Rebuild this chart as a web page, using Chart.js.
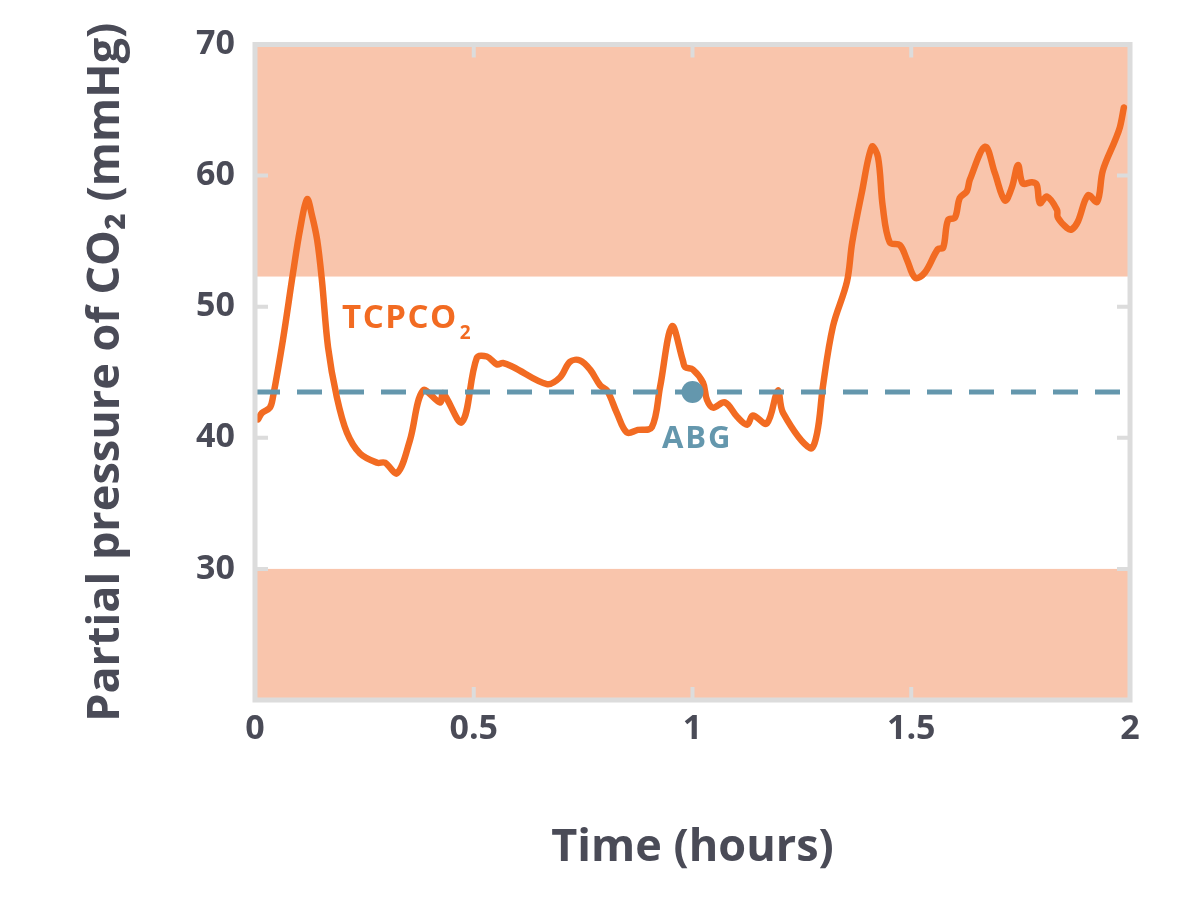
<!DOCTYPE html>
<html>
<head>
<meta charset="utf-8">
<title>Partial pressure of CO2</title>
<script src="https://cdn.jsdelivr.net/npm/chart.js@4.4.1/dist/chart.umd.min.js"></script>
<style>
  html, body { margin: 0; padding: 0; background: #fff; }
  #wrap { width: 1200px; height: 902px; position: relative; }
</style>
</head>
<body>
<div id="wrap"><canvas id="chart"></canvas></div>
<script>
// Values
const timeHours = [
  0.007, 0.016, 0.034, 0.041, 0.064, 0.087, 0.103, 0.119, 0.130, 0.142,
  0.153, 0.167, 0.187, 0.210, 0.240, 0.279, 0.297, 0.325, 0.354, 0.384,
  0.423, 0.430, 0.473, 0.507, 0.530, 0.553, 0.567, 0.590, 0.667, 0.697,
  0.720, 0.743, 0.766, 0.789, 0.805, 0.827, 0.850, 0.875, 0.907, 0.926,
  0.953, 0.978, 0.983, 1.001, 1.024, 1.033, 1.047, 1.074, 1.102, 1.125,
  1.138, 1.170, 1.195, 1.207, 1.269, 1.285, 1.298, 1.321, 1.353, 1.365,
  1.387, 1.410, 1.424, 1.435, 1.451, 1.474, 1.490, 1.509, 1.531, 1.561,
  1.573, 1.584, 1.600, 1.611, 1.627, 1.634, 1.669, 1.691, 1.714, 1.730,
  1.744, 1.755, 1.776, 1.787, 1.794, 1.810, 1.833, 1.835, 1.856, 1.867,
  1.881, 1.904, 1.925, 1.938, 1.966, 1.977, 1.986
];
const tcpco2 = [
  41.4, 41.9, 42.3, 43.1, 47.5, 52.6, 55.9, 58.2, 57.0, 55.1,
  52.0, 46.9, 43.1, 40.4, 38.8, 38.1, 38.1, 37.3, 39.8, 43.6,
  42.7, 43.4, 41.2, 46.1, 46.2, 45.6, 45.7, 45.4, 44.1, 44.6,
  45.8, 45.9, 45.2, 44.0, 43.6, 41.9, 40.4, 40.6, 40.8, 43.9,
  48.5, 45.9, 45.4, 45.2, 44.2, 42.9, 42.3, 42.7, 41.6, 41.0,
  41.7, 41.1, 43.6, 41.9, 39.2, 40.4, 43.9, 48.5, 51.9, 54.9,
  58.7, 62.2, 61.4, 57.6, 54.9, 54.7, 53.6, 52.2, 52.6, 54.4,
  54.5, 56.6, 56.8, 58.3, 58.8, 59.7, 62.2, 60.2, 58.1, 59.1,
  60.8, 59.4, 59.5, 59.3, 57.9, 58.4, 57.4, 56.8, 56.0, 55.9,
  56.5, 58.5, 58.0, 60.4, 62.7, 63.7, 65.2
];
const abgTime = [1.0];
const abgValue = [43.5];
const abgLineTime = [0, 2];
const abgLineValue = [43.5, 43.5];
const xTicks = [0, 0.5, 1, 1.5, 2];
const yTicks = [30, 40, 50, 60, 70];
const highBand = [52.3, 70];
const lowBand = [20, 30];

const ORANGE = '#f26b22';
const BLUE = '#6497ad';
const BAND = '#f9c5ac';
const FRAME = '#dcdcdc';
const INK = '#4a4b57';
const FONT = '"Open Sans", "DejaVu Sans", sans-serif';

// bands behind the lines
const bandsPlugin = {
  id: 'bands',
  beforeDatasetsDraw(chart) {
    const { ctx, chartArea, scales: { y } } = chart;
    ctx.save();
    ctx.fillStyle = BAND;
    [highBand, lowBand].forEach(([lo, hi]) => {
      const top = y.getPixelForValue(hi);
      const bot = y.getPixelForValue(lo);
      ctx.fillRect(chartArea.left, top, chartArea.right - chartArea.left, bot - top);
    });
    ctx.restore();
  }
};

// grey frame with inward ticks, plus text labels
const framePlugin = {
  id: 'frame',
  afterDatasetsDraw(chart) {
    const { ctx, chartArea: a, scales: { x, y } } = chart;
    ctx.save();
    ctx.strokeStyle = FRAME;
    ctx.lineWidth = 5;
    ctx.strokeRect(a.left, a.top, a.right - a.left, a.bottom - a.top);
    ctx.lineWidth = 4;
    ctx.beginPath();
    yTicks.slice(0, -1).forEach(v => {
      const py = y.getPixelForValue(v);
      ctx.moveTo(a.left, py); ctx.lineTo(a.left + 13, py);
      ctx.moveTo(a.right, py); ctx.lineTo(a.right - 13, py);
    });
    xTicks.slice(1, -1).forEach(v => {
      const px = x.getPixelForValue(v);
      ctx.moveTo(px, a.top); ctx.lineTo(px, a.top + 13);
      ctx.moveTo(px, a.bottom); ctx.lineTo(px, a.bottom - 13);
    });
    ctx.stroke();

    // TCPCO2 label
    ctx.textBaseline = 'alphabetic';
    ctx.textAlign = 'left';
    ctx.fillStyle = ORANGE;
    ctx.letterSpacing = '1.5px';
    ctx.font = '700 33px ' + FONT;
    const tx = x.getPixelForValue(0.199);
    const ty = y.getPixelForValue(48.4);
    ctx.fillText('TCPCO', tx, ty);
    const w = ctx.measureText('TCPCO').width;
    ctx.font = '700 19px ' + FONT;
    ctx.fillText('2', tx + w + 2, ty + 11);

    // ABG label
    ctx.fillStyle = BLUE;
    ctx.letterSpacing = '2px';
    ctx.font = '700 31px ' + FONT;
    ctx.fillText('ABG', x.getPixelForValue(0.93), y.getPixelForValue(39.2));
    ctx.restore();
  }
};

const ctx = document.getElementById('chart').getContext('2d');
const chart = new Chart(ctx, {
  type: 'line',
  data: {
    datasets: [
      {
        label: 'TCPCO2',
        data: timeHours.map((t, i) => ({ x: t, y: tcpco2[i] })),
        borderColor: ORANGE,
        borderWidth: 6.5,
        borderCapStyle: 'round',
        borderJoinStyle: 'round',
        pointRadius: 0,
        tension: 0.35,
        order: 2
      },
      {
        label: 'ABG line',
        data: abgLineTime.map((t, i) => ({ x: t, y: abgLineValue[i] })),
        borderColor: BLUE,
        borderWidth: 5,
        borderDash: [25, 17],
        pointRadius: 0,
        order: 1
      },
      {
        label: 'ABG',
        data: abgTime.map((t, i) => ({ x: t, y: abgValue[i] })),
        showLine: false,
        pointRadius: 11,
        pointBackgroundColor: BLUE,
        pointBorderWidth: 0,
        order: 0
      }
    ]
  },
  options: {
    responsive: true,
    maintainAspectRatio: false,
    animation: false,
    layout: { padding: { left: 79, right: 70, top: 44.5, bottom: 27 } },
    plugins: { legend: { display: false }, tooltip: { enabled: false } },
    scales: {
      x: {
        type: 'linear',
        min: 0,
        max: 2,
        afterBuildTicks: s => { s.ticks = xTicks.map(v => ({ value: v })); },
        afterFit: s => { s.height = 175; },
        grid: { display: false, drawTicks: false },
        border: { display: false },
        ticks: {
          padding: 9,
          color: INK,
          font: { family: FONT, size: 34, weight: '700' },
          callback: v => String(v)
        },
        title: {
          display: true,
          text: 'Time (hours)',
          color: INK,
          padding: 0,
          font: { family: FONT, size: 45, weight: '700' }
        }
      },
      y: {
        min: 20,
        max: 70,
        afterBuildTicks: s => { s.ticks = yTicks.map(v => ({ value: v })); },
        afterFit: s => { s.width = 176; },
        grid: { display: false, drawTicks: false },
        border: { display: false },
        ticks: {
          padding: 20,
          color: INK,
          font: { family: FONT, size: 34, weight: '700' },
          callback: v => String(v)
        },
        title: {
          display: true,
          text: 'Partial pressure of CO\u2082 (mmHg)',
          color: INK,
          padding: 0,
          font: { family: FONT, size: 45, weight: '700' }
        }
      }
    }
  },
  plugins: [bandsPlugin, framePlugin]
});
</script>
</body>
</html>
